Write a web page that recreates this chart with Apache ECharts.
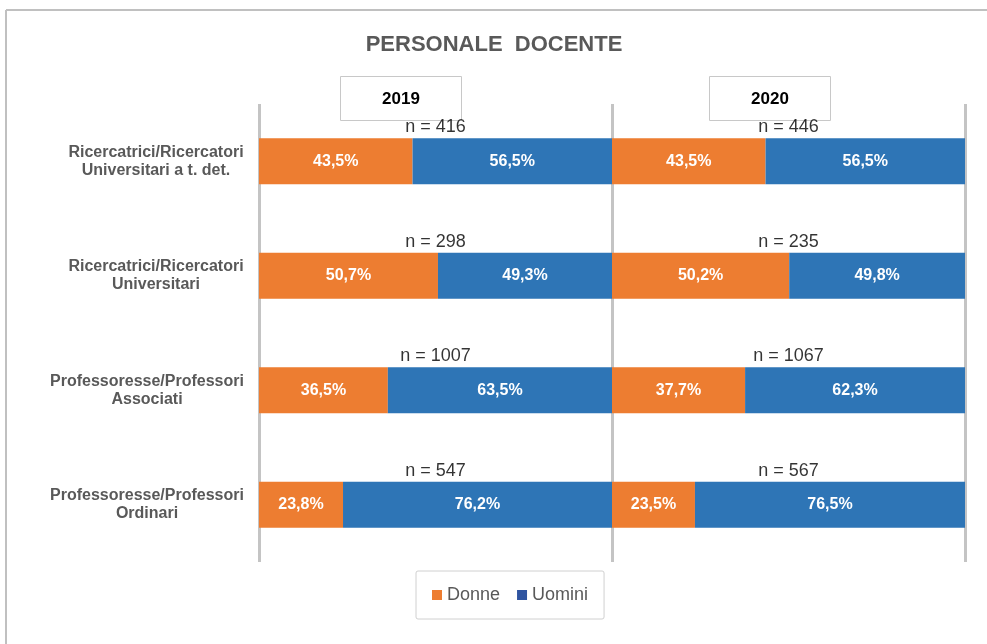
<!DOCTYPE html>
<html><head><meta charset="utf-8">
<script src="https://cdn.jsdelivr.net/npm/echarts@6/dist/echarts.min.js"></script>
<style>html,body{margin:0;padding:0;background:#fff}#c{width:987px;height:644px}</style>
</head><body><div id="c"></div>
<script>
const categories = ['Ricercatrici/Ricercatori\nUniversitari a t. det.', 'Ricercatrici/Ricercatori\nUniversitari', 'Professoresse/Professori\nAssociati', 'Professoresse/Professori\nOrdinari'];
const years = ['2019', '2020'];
const donne2019 = [43.5, 50.7, 36.5, 23.8];
const uomini2019 = [56.5, 49.3, 63.5, 76.2];
const donne2020 = [43.5, 50.2, 37.7, 23.5];
const uomini2020 = [56.5, 49.8, 62.3, 76.5];
const n2019 = [416, 298, 1007, 547];
const n2020 = [446, 235, 1067, 567];

const ORANGE = '#ED7D31', BLUE = '#2E75B6';
const FONT = 'Liberation Sans, Arial, sans-serif';
const LABEL_FONT = 'bold 16px ' + FONT;
const fmt = v => v.toFixed(1).replace('.', ',') + '%';

// measure category label blocks so each block is right-aligned with centred lines
const ctx = document.createElement('canvas').getContext('2d');
ctx.font = LABEL_FONT;
const rich = {};
categories.forEach((c, i) => {
  const w = Math.ceil(Math.max(...c.split('\n').map(s => ctx.measureText(s).width)));
  rich['c' + i] = {width: w, align: 'center', color: '#595959', fontWeight: 'bold', fontSize: 16, fontFamily: FONT, lineHeight: 18};
});

const chart = echarts.init(document.getElementById('c'), null, {renderer: 'canvas'});

function barSeries(name, data, color, idx) {
  return {
    name, type: 'bar', stack: 's' + idx, xAxisIndex: idx, yAxisIndex: idx,
    data, barWidth: 46,
    itemStyle: {color},
    label: {show: true, position: 'inside', color: '#fff', fontWeight: 'bold', fontSize: 16, fontFamily: FONT,
      formatter: p => fmt(p.value)},
    emphasis: {disabled: true}, silent: true
  };
}
function nSeries(ns, idx) {
  return {
    type: 'scatter', xAxisIndex: idx, yAxisIndex: idx, symbolSize: 0, silent: true,
    data: ns.map((n, i) => [50, i, n]),
    label: {show: true, position: 'inside', offset: [0, -34], color: '#000', fontSize: 18, fontFamily: FONT,
      formatter: p => 'n = ' + p.value[2]}
  };
}
const xAx = idx => ({gridIndex: idx, type: 'value', min: 0, max: 100, interval: 100,
  axisLine: {show: false}, axisTick: {show: false}, axisLabel: {show: false},
  splitLine: {show: true, lineStyle: {color: '#c4c4c4', width: 3}}});
const yAx = idx => ({gridIndex: idx, type: 'category', data: categories, inverse: true,
  axisLine: {show: false}, axisTick: {show: false},
  axisLabel: {show: idx === 0, align: 'right', margin: 15, rich,
    formatter: (v, i) => v.split('\n').map(s => '{c' + i + '|' + s + '}').join('\n')}});

const yearBox = (x, label) => ({
  type: 'group', left: x, top: 76,
  children: [
    {type: 'rect', shape: {x: 0, y: 0, width: 121, height: 44}, style: {fill: '#fff', stroke: '#c8c8c8', lineWidth: 1}},
    {type: 'text', x: 60.5, y: 23, style: {text: label, align: 'center', verticalAlign: 'middle', fill: '#000',
      font: 'bold 17px ' + FONT}}
  ]
});

chart.setOption({
  backgroundColor: '#fff',
  animation: false,
  title: {text: 'PERSONALE  DOCENTE', left: 489, textAlign: 'center', top: 29,
    textStyle: {color: '#595959', fontSize: 22, fontWeight: 'bold', fontFamily: FONT}},
  grid: [
    {left: 259, width: 353, top: 104, height: 458},
    {left: 612, width: 353, top: 104, height: 458}
  ],
  xAxis: [xAx(0), xAx(1)],
  yAxis: [yAx(0), yAx(1)],
  legend: {
    left: 416, top: 571, padding: [15, 16, 15, 16], itemGap: 17,
    borderColor: '#d0d0d0', borderWidth: 1, borderRadius: 2,
    icon: 'rect', itemWidth: 10, itemHeight: 10,
    textStyle: {color: '#595959', fontSize: 18, fontFamily: FONT, padding: [0, 0, 0, 0]},
    data: [{name: 'Donne', itemStyle: {color: ORANGE}}, {name: 'Uomini', itemStyle: {color: '#2F54A0'}}]
  },
  graphic: [
    {type: 'line', shape: {x1: 6, y1: 10, x2: 987, y2: 10}, style: {stroke: '#c0c0c0', lineWidth: 2}},
    {type: 'line', shape: {x1: 6, y1: 10, x2: 6, y2: 644}, style: {stroke: '#c0c0c0', lineWidth: 2}},
    yearBox(340, years[0]),
    yearBox(709, years[1])
  ],
  series: [
    barSeries('Donne', donne2019, ORANGE, 0),
    barSeries('Uomini', uomini2019, BLUE, 0),
    barSeries('Donne', donne2020, ORANGE, 1),
    barSeries('Uomini', uomini2020, BLUE, 1),
    nSeries(n2019, 0),
    nSeries(n2020, 1)
  ]
});
</script></body></html>
